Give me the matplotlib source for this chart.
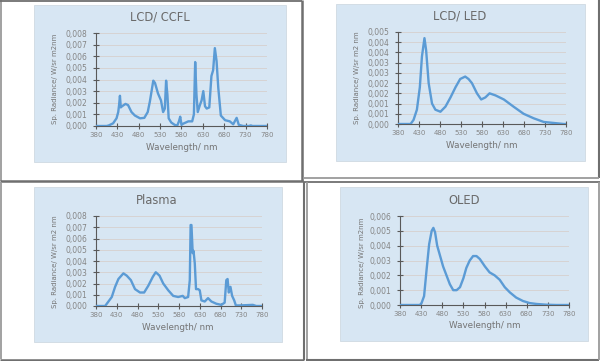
import matplotlib
matplotlib.use('Agg')
import matplotlib.pyplot as plt
from matplotlib.patches import Rectangle

plt.rcParams['font.family'] = ['DejaVu Sans']

# spectra (wavelength nm, radiance W/sr m2 nm)
wl_ccfl = [380, 405, 410, 420, 428, 432, 434, 436, 438, 441, 449, 455, 463, 471, 483, 493,
           501, 506, 514, 518, 525, 532, 537, 541, 544, 547, 550, 556, 564, 570, 574, 577,
           580, 584, 596, 605, 609, 612, 615, 618, 623, 627, 631, 635, 639, 645, 650, 654,
           658, 662, 666, 672, 682, 693, 701, 709, 714, 724, 738, 742, 746, 780]
rad_ccfl = [0, 0, 0.00005, 0.00023, 0.00066, 0.0012, 0.0018, 0.0026, 0.0016, 0.0017, 0.0019, 0.0018, 0.0012, 0.0009, 0.00066, 0.0007,
            0.0012, 0.0021, 0.0039, 0.0037, 0.0028, 0.0022, 0.0012, 0.0015, 0.0039, 0.0027, 0.00066, 0.0003, 0.0001, 0.00003, 0.0004, 0.0008,
            0.0001, 0.0002, 0.0004, 0.0004, 0.001, 0.0055, 0.0027, 0.0012, 0.0018, 0.0022, 0.0030, 0.0017, 0.0015, 0.0016, 0.0043, 0.0048,
            0.0067, 0.0056, 0.0033, 0.0009, 0.0005, 0.0004, 0.00015, 0.0007, 0.0001, 0, 0, 0.00005, 0, 0]

wl_led = [380, 410, 417, 425, 432, 437, 443, 447, 453, 461, 469, 481, 493, 505, 517, 528,
          540, 548, 556, 568, 578, 588, 598, 612, 632, 655, 679, 703, 727, 751, 775, 780]
rad_led = [0, 0, 0.0002, 0.0007, 0.0018, 0.0033, 0.0042, 0.0036, 0.0020, 0.0010, 0.0007, 0.0006, 0.00085, 0.0013, 0.0018, 0.0022,
           0.00232, 0.0022, 0.0020, 0.0015, 0.0012, 0.0013, 0.0015, 0.0014, 0.0012, 0.00085, 0.0005, 0.00028, 0.0001, 0.00005, 0, 0]

wl_plasma = [380, 402, 406, 418, 426, 434, 446, 454, 464, 474, 486, 496, 506, 517, 524, 533,
             542, 554, 566, 578, 589, 594, 602, 606, 608, 610, 613, 615, 618, 621, 626, 630,
             634, 642, 650, 658, 670, 682, 690, 694, 697, 700, 704, 708, 713, 717, 726, 758, 766, 780]
rad_plasma = [0, 0, 0.0002, 0.0008, 0.0017, 0.0024, 0.0029, 0.0027, 0.0023, 0.0015, 0.0012, 0.0012, 0.0018, 0.0026, 0.0030, 0.0027,
              0.0020, 0.0014, 0.0009, 0.0008, 0.0009, 0.0007, 0.0008, 0.0023, 0.0072, 0.0072, 0.0047, 0.0049, 0.0038, 0.0015, 0.0015, 0.0014,
              0.0005, 0.0004, 0.0007, 0.0004, 0.0002, 0.0001, 0.0003, 0.0023, 0.0024, 0.0012, 0.0017, 0.0009, 0.0005, 0.00005, 0.00005, 0.0001, 0, 0]

wl_oled = [380, 427, 431, 437, 443, 449, 455, 459, 463, 468, 474, 482, 490, 498, 506, 514,
           522, 530, 537, 545, 553, 561, 569, 581, 592, 604, 616, 628, 640, 655, 671, 687,
           703, 726, 750, 780]
rad_oled = [0, 0, 0.00013, 0.0006, 0.0024, 0.0041, 0.0050, 0.0052, 0.0049, 0.0040, 0.0034, 0.0026, 0.0020, 0.0014, 0.0010, 0.0010,
            0.0012, 0.0018, 0.0025, 0.0030, 0.0033, 0.0033, 0.0031, 0.0026, 0.0022, 0.0020, 0.0017, 0.0012, 0.00085, 0.0005, 0.00027, 0.00013,
            0.00007, 0.00002, 0, 0]

x_ticks = [380, 430, 480, 530, 580, 630, 680, 730, 780]
x_labels = ['380', '430', '480', '530', '580', '630', '680', '730', '780']

y_ticks_8 = [0, 0.001, 0.002, 0.003, 0.004, 0.005, 0.006, 0.007, 0.008]
y_labels_8 = ['0,000', '0,001', '0,002', '0,003', '0,004', '0,005', '0,006', '0,007', '0,008']
y_ticks_led = [0, 0.0005, 0.001, 0.0015, 0.002, 0.0025, 0.003, 0.0035, 0.004, 0.0045]
y_labels_led = ['0,000', '0,001', '0,001', '0,002', '0,002', '0,003', '0,003', '0,004', '0,004', '0,005']
y_ticks_oled = [0, 0.001, 0.002, 0.003, 0.004, 0.005, 0.006]
y_labels_oled = ['0,000', '0,001', '0,002', '0,003', '0,004', '0,005', '0,006']

W, H = 600, 361
line_col = '#5b9bd5'
area_col = '#d7e6f3'
grid_col = '#d6d3d3'

fig = plt.figure(figsize=(6, 3.61), dpi=100)
fig.patch.set_facecolor('white')

# pixel overlay for boxes, chart areas and labels
bg = fig.add_axes([0, 0, 1, 1])
bg.set_xlim(0, W)
bg.set_ylim(H, 0)
bg.axis('off')

def hline(y, x0, x1, c, lw=1.3):
    bg.plot([x0, x1], [y, y], color=c, lw=lw, solid_capstyle='butt')

def vline(x, y0, y1, c, lw=1.3):
    bg.plot([x, x], [y0, y1], color=c, lw=lw, solid_capstyle='butt')

dark = '#6f6f6f'
light = '#9a9a9a'
# table-like frames around the four pictures
vline(1, 0, 181, light)
hline(0.5, 0, 302, dark)
vline(302, 0, 181, dark, 1.8)
hline(180.5, 0, 303, dark, 1.8)
vline(598.5, 0, 178, dark, 1.5)
hline(178, 303, 599, light)
hline(181.5, 303, 600, dark)
vline(1, 182, 359, light)
vline(303.5, 182, 360, dark, 1.5)
vline(306.5, 182, 360, light)
hline(359.5, 0, 304, dark, 1.8)
hline(359.5, 306, 599, dark, 1.5)
vline(598.5, 182, 360, light)

panels = [
    dict(area=(34, 5, 286, 162), ax=(96, 33, 267, 126), title='LCD/ CCFL', tpos=(160, 17),
         xl=(182, 147), yl=(55, 79), ylab='Sp. Radiance/ W/sr m2nm',
         wl=wl_ccfl, rad=rad_ccfl, yt=y_ticks_8, ytl=y_labels_8, ymax=0.008),
    dict(area=(336, 4, 585, 161), ax=(398, 32, 566, 124), title='LCD/ LED', tpos=(460, 16),
         xl=(482, 146), yl=(357, 78), ylab='Sp. Radiance/ W/sr m2 nm',
         wl=wl_led, rad=rad_led, yt=y_ticks_led, ytl=y_labels_led, ymax=0.0045),
    dict(area=(34, 187, 282, 342), ax=(96, 216, 262, 306), title='Plasma', tpos=(157, 201),
         xl=(178, 327), yl=(55, 262), ylab='Sp. Radiance/ W/sr m2 nm',
         wl=wl_plasma, rad=rad_plasma, yt=y_ticks_8, ytl=y_labels_8, ymax=0.008),
    dict(area=(340, 187, 588, 341), ax=(400, 216, 569, 305), title='OLED', tpos=(464, 201),
         xl=(485, 326), yl=(362, 263), ylab='Sp. Radiance/ W/sr m2nm',
         wl=wl_oled, rad=rad_oled, yt=y_ticks_oled, ytl=y_labels_oled, ymax=0.006),
]

for p in panels:
    x0, y0, x1, y1 = p['area']
    bg.add_patch(Rectangle((x0, y0), x1 - x0, y1 - y0, facecolor=area_col,
                           edgecolor='#cfd9e2', lw=0.6))
    bg.text(p['tpos'][0], p['tpos'][1], p['title'], ha='center', va='center',
            fontsize=8.3, color='#6a6a6a')
    bg.text(p['xl'][0], p['xl'][1], 'Wavelength/ nm', ha='center', va='center',
            fontsize=6.3, color='#747474')
    bg.text(p['yl'][0], p['yl'][1], p['ylab'], ha='center', va='center',
            rotation=90, fontsize=5, color='#747474')

    l, t, r, b = p['ax']
    ax = fig.add_axes([l / W, 1 - b / H, (r - l) / W, (b - t) / H])
    ax.patch.set_alpha(0)
    ax.plot(p['wl'], p['rad'], color=line_col, lw=1.7, zorder=3)
    ax.set_xlim(380, 780)
    ax.set_ylim(0, p['ymax'])
    ax.set_xticks(x_ticks)
    ax.set_xticklabels(x_labels)
    ax.set_yticks(p['yt'])
    ax.set_yticklabels(p['ytl'])
    ax.grid(axis='y', color=grid_col, lw=0.7)
    ax.set_axisbelow(True)
    for s in ['top', 'right']:
        ax.spines[s].set_visible(False)
    for s in ['left', 'bottom']:
        ax.spines[s].set_color('#595959')
        ax.spines[s].set_linewidth(0.8)
    ax.tick_params(direction='inout', length=4, width=0.8, color='#595959',
                   labelcolor='#858585')
    ax.tick_params(axis='y', labelsize=5.5, pad=4)
    ax.tick_params(axis='x', labelsize=5, pad=2)

fig.savefig('out.png', dpi=100)
